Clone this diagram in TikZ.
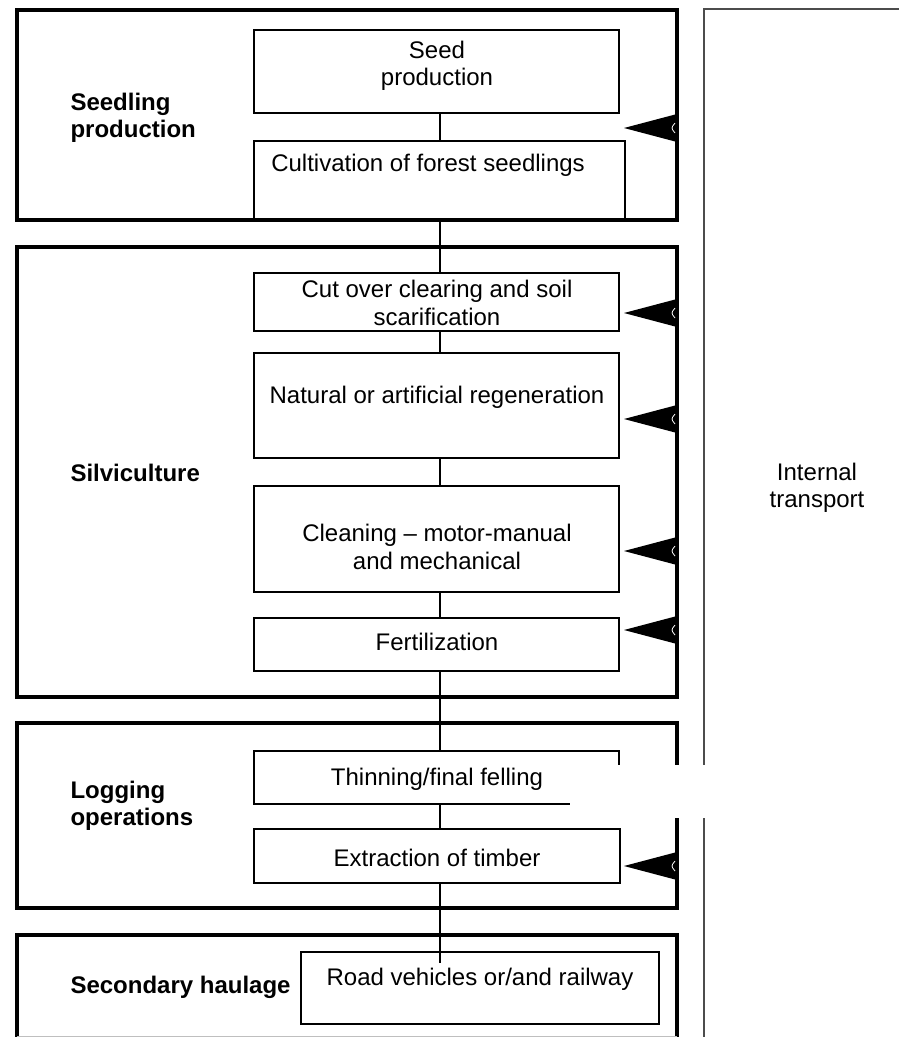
\documentclass[tikz,border=0pt]{standalone}
\usepackage{fontspec}
\setmainfont{Liberation Sans}
\tikzset{
    phase/.style={draw, line width=4pt, inner sep=0pt, outer sep=0pt},
    stagebox/.style={draw, line width=2.2pt, inner sep=0pt, outer sep=0pt},
    link/.style={line width=2pt},
    transport/.style={draw=black!70, line width=1.6pt},
    boxtext/.style={align=center, font=\fontsize{24}{27.5}\selectfont},
    phasetext/.style={align=left, anchor=west, font=\fontsize{24}{27.5}\selectfont\bfseries}
}
\begin{document}
\begin{tikzpicture}[x=1pt, y=-1pt]
    \useasboundingbox (0,0) rectangle (898,1037);
    \draw[transport] (900,9) -| (704,1040);
    \node[phase, minimum width=660pt, minimum height=210pt] (seedling) at (347,115) {};
    \node[phase, minimum width=660pt, minimum height=450pt] (silvi) at (347,472) {};
    \node[phase, minimum width=660pt, minimum height=185pt] (logging) at (347,815.5) {};
    \draw[line width=4pt] (17,1040) |- (677,935) -- (677,1040);
    \draw[black!25, line width=1pt] (17,1036) -- (677,1036);
    \node[stagebox, minimum width=365pt, minimum height=83pt] (seed) at (436.5,71.5) {};
    \node[stagebox, minimum width=371pt, minimum height=79pt] (cult) at (439.5,180.5) {};
    \node[stagebox, minimum width=365pt, minimum height=58pt] (cut) at (436.5,302) {};
    \node[stagebox, minimum width=365pt, minimum height=105pt] (natural) at (436.5,405.5) {};
    \node[stagebox, minimum width=365pt, minimum height=106pt] (clean) at (436.5,539) {};
    \node[stagebox, minimum width=365pt, minimum height=53pt] (fert) at (436.5,644.5) {};
    \node[stagebox, minimum width=365pt, minimum height=53pt] (thin) at (436.5,777.5) {};
    \node[stagebox, minimum width=366pt, minimum height=54pt] (extract) at (437,856) {};
    \node[stagebox, minimum width=358pt, minimum height=72pt] (road) at (480,988) {};
    \coordinate (spine) at (440,0);
    \coordinate (roadend) at (440,963);
    \foreach \a/\b in {seed/cult, cult/cut, cut/natural, natural/clean, clean/fert, fert/thin, thin/extract}
    {
      \draw[link] (\a.south -| spine) -- (\b.north -| spine);
    }
    \draw[link] (extract.south -| spine) -- (roadend);
    \foreach \y in {128,313,419,551,630,866}
    {
      \fill (677,{\y-14}) -- (624,\y) -- (677,{\y+14}) -- cycle;
      \draw[white, line width=0.8pt] (675,{\y-5}) .. controls (671,\y) .. (675,{\y+5});
    }
    \fill[white] (570,765) rectangle (900,818);
    \node[phasetext] (seedlinglabel) at (67,118) {Seedling\\production};
    \node[phasetext] (silvilabel) at (67,473) {Silviculture};
    \node[phasetext] (logginglabel) at (67,806) {Logging\\operations};
    \node[phasetext] (haulagelabel) at (67,987) {Secondary haulage};
    \node[boxtext] (seedtext) at (437,66) {Seed\\production};
    \node[boxtext] (culttext) at (428,165) {Cultivation of forest seedlings};
    \node[boxtext] (cuttext) at (437,303) {Cut over clearing and soil\\scarification};
    \node[boxtext] (naturaltext) at (437,397) {Natural or artificial regeneration};
    \node[boxtext] (cleantext) at (437,547) {Cleaning – motor-manual\\and mechanical};
    \node[boxtext] (ferttext) at (437,642) {Fertilization};
    \node[boxtext] (thintext) at (437,779) {Thinning/final felling};
    \node[boxtext] (extracttext) at (437,858) {Extraction of timber};
    \node[boxtext] (roadtext) at (480,979) {Road vehicles or/and railway};
    \node[boxtext] (transporttext) at (817,488) {Internal\\transport};
\end{tikzpicture}
\end{document}
